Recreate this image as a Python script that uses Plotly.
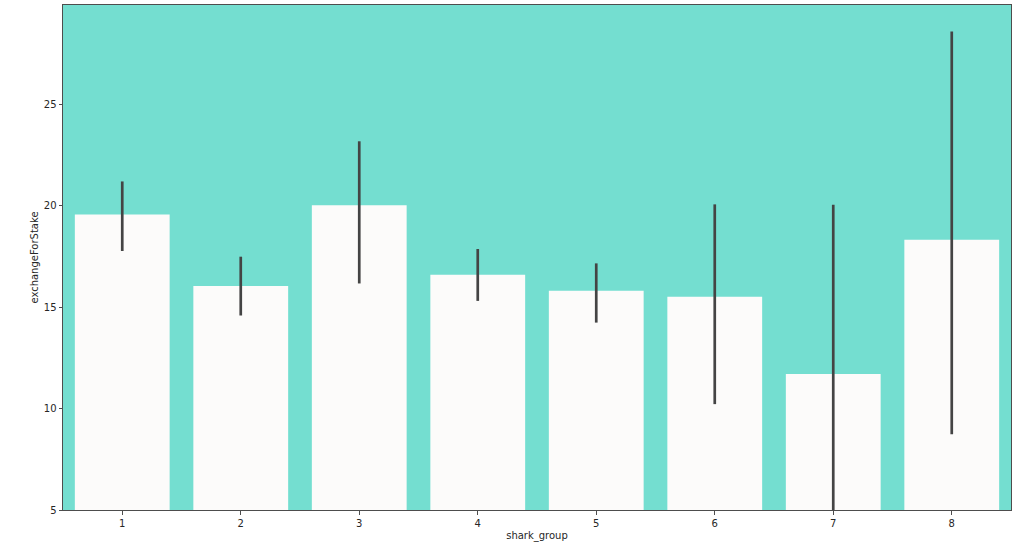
import plotly.graph_objects as go

# Data
shark_group = ["1", "2", "3", "4", "5", "6", "7", "8"]
exchange_mean = [19.57, 16.05, 20.03, 16.60, 15.81, 15.52, 11.70, 18.32]
ci_upper = [21.20, 17.49, 23.18, 17.87, 17.16, 20.07, 20.05, 28.59]
ci_lower = [17.77, 14.59, 16.17, 15.31, 14.24, 10.22, 5.00, 8.73]
y_ticks = [5, 10, 15, 20, 25]

err_plus = [u - m for u, m in zip(ci_upper, exchange_mean)]
err_minus = [m - l for m, l in zip(exchange_mean, ci_lower)]

fig = go.Figure()
fig.add_trace(go.Bar(
    x=shark_group,
    y=exchange_mean,
    marker=dict(color="#fcfbfa", line=dict(width=0)),
    width=0.8,
    error_y=dict(type="data", symmetric=False, array=err_plus, arrayminus=err_minus,
                 color="#444444", thickness=2.7, width=0),
    hoverinfo="x+y",
))

axis_common = dict(
    showline=True, linecolor="#4d4d4d", linewidth=1, mirror=True,
    ticks="outside", ticklen=3.5, tickwidth=0.8, tickcolor="#4d4d4d",
    showgrid=False, zeroline=False,
    tickfont=dict(family="DejaVu Sans", size=10, color="#262626"),
    title_font=dict(family="DejaVu Sans", size=10, color="#262626"),
)

fig.update_layout(
    width=1023, height=546,
    margin=dict(l=63, r=12, t=5, b=36),
    paper_bgcolor="white",
    plot_bgcolor="#74ded0",
    showlegend=False,
    bargap=0.2,
    xaxis=dict(title=dict(text="shark_group", standoff=4), type="category",
               range=[-0.5, 7.5], **axis_common),
    yaxis=dict(title=dict(text="exchangeForStake", standoff=3), range=[5, 29.9],
               tickvals=y_ticks, ticktext=[str(t) for t in y_ticks], **axis_common),
)

fig.write_html(
    "out.html",
    config={"displayModeBar": False},
    post_script="document.body.style.margin='0';document.body.style.overflow='hidden';",
)
